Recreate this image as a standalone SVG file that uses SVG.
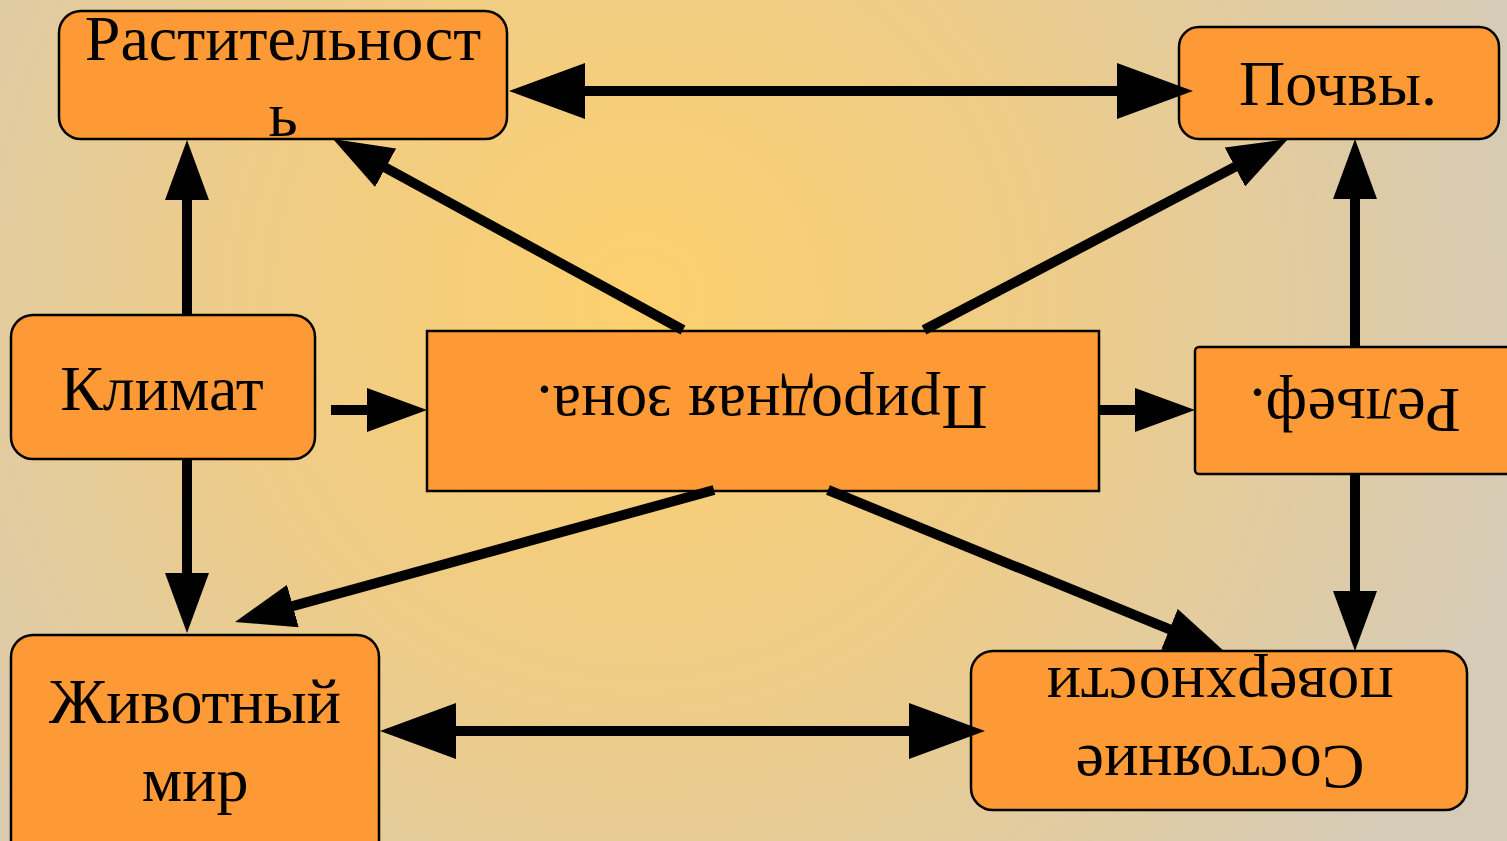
<svg xmlns="http://www.w3.org/2000/svg" width="1507" height="841" viewBox="0 0 1507 841">
<defs>
<radialGradient id="bg" gradientUnits="userSpaceOnUse" cx="640" cy="300" r="900">
<stop offset="0" stop-color="#FDD06E"/>
<stop offset="0.45" stop-color="#EECC88"/>
<stop offset="1" stop-color="#D6CBB6"/>
</radialGradient>
<marker id="big" markerUnits="userSpaceOnUse" markerWidth="76" markerHeight="56" refX="56" refY="28" orient="auto-start-reverse">
<path d="M0,0 L76,28 L0,56 Z" fill="#000"/>
</marker>
<marker id="med" markerUnits="userSpaceOnUse" markerWidth="60" markerHeight="44" refX="42" refY="22" orient="auto-start-reverse">
<path d="M0,0 L60,22 L0,44 Z" fill="#000"/>
</marker>
<style>
.box{fill:#FE9A35;stroke:#000;stroke-width:2.5}
.t{font-family:"Liberation Serif","Times New Roman",serif;font-size:64px;fill:#000;text-anchor:middle}
.c line{stroke:#000;stroke-width:10}
.m{marker-end:url(#med)}
.d{marker-start:url(#big);marker-end:url(#big)}
</style>
</defs>
<rect x="0" y="0" width="1507" height="841" fill="url(#bg)"/>
<g id="rastitelnost">
<rect class="box" x="59" y="11" width="448" height="128" rx="22"/>
<text class="t" x="283" y="60">Растительност</text>
<text class="t" x="283" y="136">ь</text>
</g>
<g id="pochvy">
<rect class="box" x="1179" y="27" width="320" height="112" rx="20"/>
<text class="t" x="1338" y="105">Почвы.</text>
</g>
<g id="klimat">
<rect class="box" x="11" y="315" width="304" height="144" rx="22"/>
<text class="t" x="162" y="410">Климат</text>
</g>
<g id="prirodnaya-zona">
<rect class="box" x="427" y="331" width="672" height="160"/>
<text class="t" transform="translate(762,386) rotate(180)" x="0" y="0">Природная зона.</text>
</g>
<g id="relief">
<rect class="box" x="1195" y="347" width="330" height="127" rx="4"/>
<text class="t" transform="translate(1355,389) rotate(180)" x="0" y="0">Рельеф.</text>
</g>
<g id="sostoyanie">
<rect class="box" x="971" y="651" width="496" height="159" rx="22"/>
<g transform="translate(1220,746) rotate(180)">
<text class="t" x="0" y="0">Состояние</text>
<text class="t" x="0" y="78">поверхности</text>
</g>
</g>
<g id="zhivotny-mir">
<rect class="box" x="11" y="635" width="368" height="230" rx="22"/>
<text class="t" x="195" y="723">Животный</text>
<text class="t" x="195" y="801">мир</text>
</g>
<g id="connectors" class="c">
<line class="d" x1="529" y1="91" x2="1173" y2="91"/>
<line class="m" x1="187" y1="315" x2="187" y2="158"/>
<line class="m" x1="187" y1="459" x2="187" y2="615"/>
<line class="m" x1="331" y1="410" x2="409" y2="410"/>
<line class="m" x1="683" y1="330" x2="348.8" y2="147.6"/>
<line class="m" x1="924" y1="330" x2="1272.1" y2="147.4"/>
<line class="m" x1="1099" y1="410" x2="1177" y2="410"/>
<line class="m" x1="1355" y1="347" x2="1355" y2="157"/>
<line class="m" x1="1355" y1="474" x2="1355" y2="633"/>
<line class="m" x1="714" y1="490" x2="252.4" y2="617.2"/>
<line class="m" x1="828" y1="490" x2="1208.3" y2="645.2"/>
<line class="d" x1="400" y1="731" x2="965" y2="731"/>
</g>
</svg>
